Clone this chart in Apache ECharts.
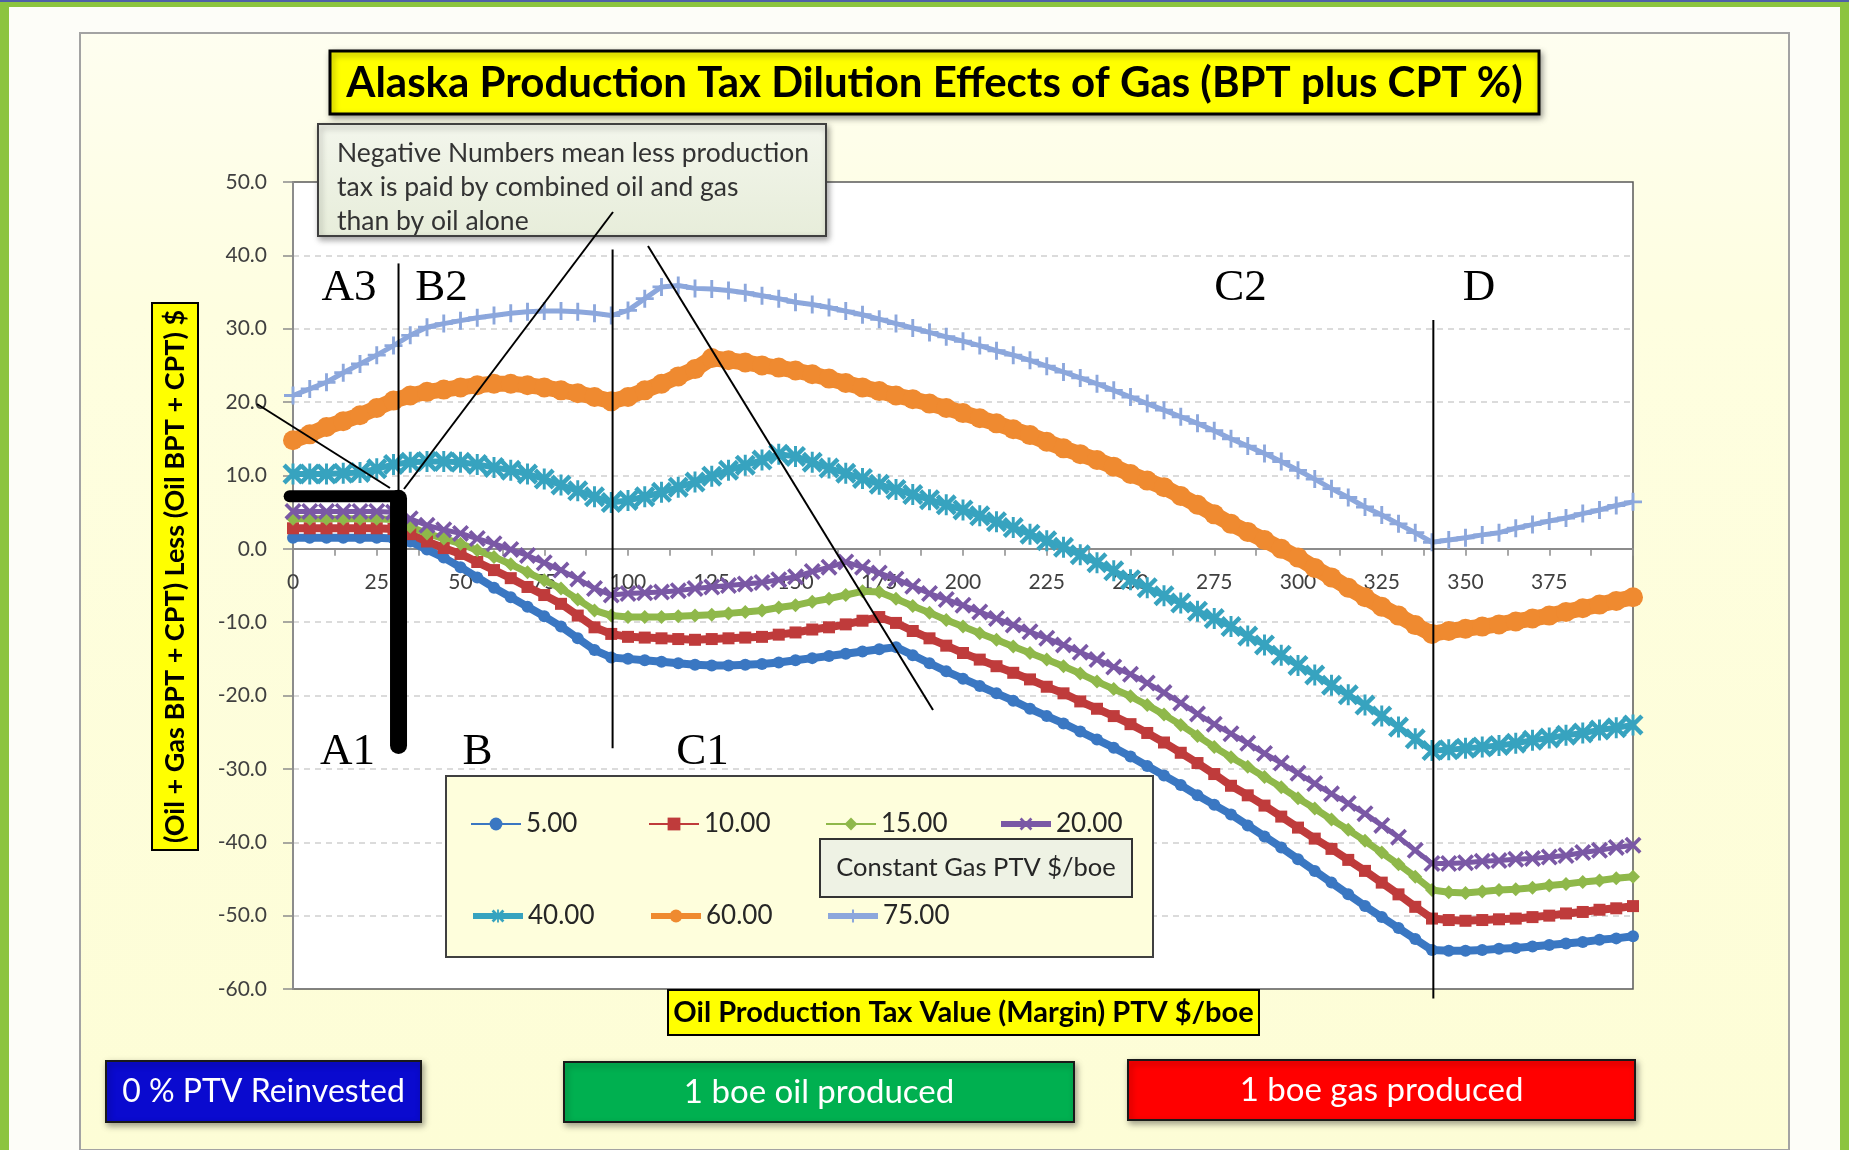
<!DOCTYPE html>
<html>
<head>
<meta charset="utf-8">
<title>Alaska Production Tax Dilution Effects of Gas</title>
<script src="https://cdn.jsdelivr.net/npm/echarts@6/dist/echarts.min.js"></script>
<style>
  html, body { margin: 0; padding: 0; background: #ffffff; overflow: hidden; }
  #dilutionChart { width: 1849px; height: 1150px; }
</style>
</head>
<body>
<div id="dilutionChart"></div>
<script>
  // Oil production tax value (margin) PTV $/boe, x axis
  var ptv = [
    0, 5, 10, 15, 20, 25, 30, 35, 40, 45,
    50, 55, 60, 65, 70, 75, 80, 85, 90, 95,
    100, 105, 110, 115, 120, 125, 130, 135, 140, 145,
    150, 155, 160, 165, 170, 175, 180, 185, 190, 195,
    200, 205, 210, 215, 220, 225, 230, 235, 240, 245,
    250, 255, 260, 265, 270, 275, 280, 285, 290, 295,
    300, 305, 310, 315, 320, 325, 330, 335, 340, 345,
    350, 355, 360, 365, 370, 375, 380, 385, 390, 395,
    400
  ]

  // (oil + gas BPT + CPT) less (oil BPT + CPT) $, one list per constant gas PTV
  var gas5 = [
    1.5, 1.5, 1.5, 1.5, 1.5, 1.5, 1.4, 1.0, -0.1, -1.2,
    -2.5, -3.9, -5.3, -6.6, -7.9, -9.2, -10.6, -12.2, -13.8, -14.8,
    -15.0, -15.2, -15.4, -15.6, -15.8, -15.9, -15.9, -15.8, -15.7, -15.5,
    -15.2, -14.9, -14.6, -14.3, -14.0, -13.7, -13.4, -14.5, -15.6, -16.7,
    -17.7, -18.7, -19.7, -20.7, -21.8, -22.8, -23.8, -24.9, -26.0, -27.1,
    -28.3, -29.6, -30.9, -32.2, -33.6, -34.9, -36.2, -37.7, -39.2, -40.7,
    -42.3, -43.9, -45.5, -47.1, -48.7, -50.2, -51.7, -53.2, -54.7, -54.8,
    -54.8, -54.7, -54.5, -54.4, -54.2, -54.0, -53.8, -53.6, -53.3, -53.1,
    -52.8
  ]
  var gas10 = [
    2.8, 2.8, 2.8, 2.8, 2.8, 2.8, 2.7, 2.0, 1.0, 0.1,
    -0.7, -1.8, -2.9, -4.0, -5.2, -6.3, -7.5, -9.1, -10.7, -11.6,
    -12.0, -12.1, -12.2, -12.3, -12.4, -12.3, -12.2, -12.1, -12.0, -11.7,
    -11.4, -11.0, -10.7, -10.3, -9.8, -9.3, -10.1, -11.2, -12.2, -13.2,
    -14.2, -15.1, -16.0, -16.9, -17.8, -18.8, -19.7, -20.8, -21.8, -22.8,
    -23.9, -25.1, -26.4, -27.8, -29.2, -30.7, -32.3, -33.6, -35.0, -36.5,
    -38.0, -39.5, -40.9, -42.4, -43.9, -45.5, -47.1, -48.8, -50.4, -50.6,
    -50.7, -50.6, -50.5, -50.4, -50.2, -50.0, -49.7, -49.5, -49.2, -49.0,
    -48.7
  ]
  var gas15 = [
    4.1, 4.1, 4.1, 4.1, 4.1, 4.1, 4.0, 3.0, 2.1, 1.4,
    0.7, -0.2, -1.1, -2.1, -3.2, -4.3, -5.4, -6.9, -8.4, -9.1,
    -9.3, -9.3, -9.3, -9.2, -9.1, -9.0, -8.8, -8.6, -8.4, -8.0,
    -7.7, -7.2, -6.8, -6.3, -5.8, -5.9, -6.8, -7.8, -8.7, -9.7,
    -10.6, -11.5, -12.4, -13.3, -14.2, -15.1, -16.0, -17.0, -18.1, -19.1,
    -20.1, -21.3, -22.6, -24.0, -25.5, -27.0, -28.4, -29.7, -31.1, -32.5,
    -34.0, -35.4, -36.9, -38.3, -39.8, -41.4, -43.0, -44.7, -46.5, -46.8,
    -46.9, -46.7, -46.5, -46.4, -46.2, -45.9, -45.7, -45.4, -45.2, -44.9,
    -44.7
  ]
  var gas20 = [
    5.1, 5.1, 5.1, 5.1, 5.1, 5.1, 5.0, 4.1, 3.2, 2.6,
    2.1, 1.4, 0.7, -0.1, -0.9, -1.9, -2.9, -4.1, -5.4, -6.3,
    -6.1, -6.0, -5.9, -5.7, -5.4, -5.2, -5.0, -4.8, -4.6, -4.2,
    -3.8, -3.1, -2.5, -1.8, -2.5, -3.3, -4.1, -5.1, -6.1, -6.9,
    -7.7, -8.6, -9.5, -10.4, -11.3, -12.2, -13.1, -14.1, -15.1, -16.1,
    -17.1, -18.3, -19.6, -21.0, -22.5, -23.9, -25.2, -26.5, -27.9, -29.2,
    -30.6, -32.0, -33.4, -34.7, -36.1, -37.7, -39.3, -41.1, -42.9, -42.9,
    -42.8, -42.6, -42.5, -42.3, -42.2, -42.0, -41.8, -41.4, -41.1, -40.7,
    -40.4
  ]
  var gas40 = [
    10.2, 10.2, 10.2, 10.3, 10.4, 10.9, 11.5, 11.8, 11.9, 11.9,
    11.8, 11.5, 11.1, 10.7, 10.2, 9.5, 8.7, 7.9, 7.1, 6.3,
    6.6, 7.1, 7.7, 8.4, 9.1, 9.9, 10.7, 11.4, 12.1, 12.9,
    12.6, 11.8, 11.0, 10.3, 9.6, 8.8, 8.1, 7.4, 6.7, 6.0,
    5.3, 4.5, 3.7, 2.9, 2.0, 1.1, 0.2, -0.8, -1.9, -3.0,
    -4.2, -5.3, -6.4, -7.4, -8.5, -9.5, -10.6, -11.9, -13.1, -14.5,
    -15.9, -17.2, -18.6, -19.9, -21.3, -22.8, -24.3, -25.9, -27.5, -27.4,
    -27.2, -27.0, -26.8, -26.5, -26.1, -25.8, -25.4, -25.1, -24.7, -24.4,
    -24.0
  ]
  var gas60 = [
    14.8, 15.6, 16.6, 17.4, 18.2, 19.2, 20.2, 20.9, 21.4, 21.7,
    22.0, 22.3, 22.5, 22.5, 22.3, 22.0, 21.6, 21.2, 20.7, 20.1,
    20.7, 21.6, 22.5, 23.5, 24.5, 26.0, 25.7, 25.4, 25.0, 24.7,
    24.3, 23.8, 23.2, 22.6, 22.0, 21.5, 20.9, 20.4, 19.8, 19.2,
    18.5, 17.8, 17.1, 16.3, 15.5, 14.6, 13.7, 12.9, 12.1, 11.2,
    10.2, 9.3, 8.4, 7.2, 6.0, 4.7, 3.4, 2.3, 1.2, 0.0,
    -1.2, -2.6, -3.9, -5.3, -6.6, -7.9, -9.1, -10.4, -11.6, -11.2,
    -10.9, -10.6, -10.3, -9.9, -9.5, -9.1, -8.6, -8.1, -7.6, -7.1,
    -6.6
  ]
  var gas75 = [
    20.9, 21.8, 22.7, 24.0, 25.2, 26.4, 27.7, 29.1, 30.2, 30.7,
    31.1, 31.5, 31.8, 32.1, 32.3, 32.4, 32.4, 32.3, 32.1, 31.8,
    32.5, 34.1, 35.7, 35.9, 35.5, 35.4, 35.2, 34.9, 34.5, 34.1,
    33.6, 33.3, 32.9, 32.4, 31.9, 31.3, 30.7, 30.1, 29.5, 28.9,
    28.3, 27.7, 27.0, 26.4, 25.7, 24.9, 24.1, 23.3, 22.5, 21.6,
    20.7, 19.8, 18.9, 18.0, 17.1, 16.1, 15.0, 14.0, 13.0, 11.9,
    10.7, 9.5, 8.2, 7.0, 5.7, 4.6, 3.4, 2.2, 0.9, 1.2,
    1.5, 1.9, 2.2, 2.8, 3.3, 3.8, 4.2, 4.8, 5.3, 5.9,
    6.4
  ]

  var gasNames = ['5.00', '10.00', '15.00', '20.00', '40.00', '60.00', '75.00']
  var gasValues = [gas5, gas10, gas15, gas20, gas40, gas60, gas75]

  // value range of the y axis
  var yMin = -60
  var yMax = 50

  // Excel style markers
  var MARK_X = 'path://M0,1.5L1.5,0L10,8.5L8.5,10Z M8.5,0L10,1.5L1.5,10L0,8.5Z'
  var MARK_PLUS = 'path://M4.2,0H5.8V4.2H10V5.8H5.8V10H4.2V5.8H0V4.2H4.2Z'
  var MARK_STAR = 'path://M4.3,0H5.7V10H4.3Z M0,1.5L1.5,0L10,8.5L8.5,10Z M8.5,0L10,1.5L1.5,10L0,8.5Z'

  var looks = [
    { color: '#3a77c2', symbol: 'circle', size: 12, width: 8, legendWidth: 2 },
    { color: '#bf3b3b', symbol: 'rect', size: 12, width: 8, legendWidth: 2 },
    { color: '#8fb84a', symbol: 'diamond', size: 14, width: 7, legendWidth: 2 },
    { color: '#7a58a5', symbol: MARK_X, size: 17, width: 5, legendWidth: 6 },
    { color: '#37a3bf', symbol: MARK_STAR, size: 21, width: 6, legendWidth: 6 },
    { color: '#ef8a30', symbol: 'circle', size: 20, width: 16, legendWidth: 6 },
    { color: '#8ca7dc', symbol: MARK_PLUS, size: 18, width: 5, legendWidth: 6 }
  ]

  var gridBox = { left: 293, top: 182, width: 1340, height: 807 }
  var legendSlots = [[470, 811], [648, 811], [825, 811], [998, 811], [470, 903], [648, 903], [825, 903]]

  function buildSeries () {
    return gasNames.map(function (name, i) {
      var look = looks[i]
      return {
        name: name,
        type: 'line',
        data: ptv.map(function (x, k) { return [x, gasValues[i][k]] }),
        symbol: look.symbol,
        symbolSize: look.size,
        showAllSymbol: true,
        lineStyle: { color: look.color, width: look.width },
        itemStyle: { color: look.color, borderWidth: 0 },
        emphasis: { disabled: true },
        z: 3
      }
    })
  }

  function buildLegends () {
    return gasNames.map(function (name, i) {
      return {
        data: [{ name: name, lineStyle: { width: looks[i].legendWidth } }],
        left: legendSlots[i][0],
        top: legendSlots[i][1],
        padding: 0,
        itemWidth: 50,
        itemHeight: 16,
        selectedMode: false,
        z: 20,
        textStyle: { fontSize: 26, color: '#262626', fontFamily: 'Lato' }
      }
    })
  }

  function box (x, y, w, h, fill, stroke, lw, z, shadow) {
    var style = { fill: fill, stroke: stroke, lineWidth: lw }
    if (shadow) {
      style.shadowBlur = 6
      style.shadowOffsetX = 2
      style.shadowOffsetY = 3
      style.shadowColor = 'rgba(0,0,0,0.35)'
    }
    return { type: 'rect', z: z, shape: { x: x, y: y, width: w, height: h }, style: style }
  }

  function label (x, y, text, font, fill, z, align) {
    return {
      type: 'text', z: z, x: x, y: y,
      style: { text: text, font: font, fill: fill, align: align || 'center', verticalAlign: 'middle' }
    }
  }

  function seg (a, b, w) {
    return { type: 'line', z: 40, shape: { x1: a[0], y1: a[1], x2: b[0], y2: b[1] }, style: { stroke: '#000', lineWidth: w || 2 } }
  }

  function buildDecor (chart) {
    var p = function (x, y) { return chart.convertToPixel({ gridIndex: 0 }, [x, y]) }
    var els = []

    // page frame and chart area
    els.push(box(0, 0, 1849, 1150, '#8cc43f', null, 0, -30))
    els.push(box(0, 0, 1849, 2, '#4f5fa8', null, 0, -29))
    els.push(box(9, 7, 1831, 1143, '#fdfdf8', null, 0, -28))
    els.push(box(80, 33, 1709, 1117, {
      type: 'linear', x: 0, y: 0, x2: 0, y2: 1,
      colorStops: [{ offset: 0, color: '#fefef0' }, { offset: 0.25, color: '#fefee0' }, { offset: 1, color: '#fdfdd6' }]
    }, '#a3a3a3', 2, -27))

    // title
    els.push(box(330, 51, 1209, 63, '#ffff00', '#000', 3, 30, true))
    els.push(label(934.5, 83, 'Alaska Production Tax Dilution Effects of Gas (BPT plus CPT %)', 'bold 42px Lato', '#000', 31))

    // note box
    els.push(box(318, 124, 508, 112, {
      type: 'linear', x: 0, y: 0, x2: 0, y2: 1,
      colorStops: [{ offset: 0, color: '#f3f6ec' }, { offset: 1, color: '#e7edda' }]
    }, '#3f3f3f', 2, 30, true))
    els.push(label(337, 153, 'Negative Numbers mean less production', '26.5px Lato', '#333', 31, 'left'))
    els.push(label(337, 187, 'tax is paid by combined oil and gas', '26.5px Lato', '#333', 31, 'left'))
    els.push(label(337, 221, 'than by oil alone', '26.5px Lato', '#333', 31, 'left'))

    // axis names
    els.push(box(152, 303, 46, 547, '#ffff00', '#000', 2, 30))
    var yName = label(175.5, 576.5, '(Oil + Gas BPT + CPT) Less (Oil BPT + CPT) $', 'bold 27px Lato', '#000', 31)
    yName.rotation = Math.PI / 2
    els.push(yName)
    els.push(box(668, 990, 591, 45, '#ffff00', '#000', 2, 30))
    els.push(label(963.5, 1012.5, 'Oil Production Tax Value (Margin) PTV $/boe', 'bold 29px Lato', '#000', 31))

    // legend frame and its caption
    els.push(box(446, 776, 707, 181, '#fefedc', '#404040', 2, 12))
    els.push(box(820, 839, 312, 58, '#eef2e4', '#333', 2, 21))
    els.push(label(976, 868, 'Constant Gas PTV $/boe', '25.5px Lato', '#262626', 22))

    // bottom buttons
    els.push(box(106, 1061, 315, 61, '#0a0acf', '#1a1a1a', 2, 30, true))
    els.push(label(263.5, 1092, '0 % PTV Reinvested', '32px Lato', '#fff', 31))
    els.push(box(564, 1062, 510, 60, '#00b050', '#1a1a1a', 2, 30, true))
    els.push(label(819, 1092, '1 boe oil produced', '33px Lato', '#fff', 31))
    els.push(box(1128, 1060, 507, 60, '#ff0000', '#1a1a1a', 2, 30, true))
    els.push(label(1381.5, 1090, '1 boe gas produced', '33px Lato', '#fff', 31))

    // region letters
    var serif = '45px "Liberation Serif", "Times New Roman", serif'
    els.push(label(349, 288, 'A3', serif, '#000', 41))
    els.push(label(441.5, 288, 'B2', serif, '#000', 41))
    els.push(label(1240.5, 288, 'C2', serif, '#000', 41))
    els.push(label(1479, 288, 'D', serif, '#000', 41))
    els.push(label(347.5, 752, 'A1', serif, '#000', 41))
    els.push(label(477.5, 752, 'B', serif, '#000', 41))
    els.push(label(702.5, 752, 'C1', serif, '#000', 41))

    // boundary lines, placed on the data scale
    els.push(seg(p(31.5, 38.9), p(31.5, 7.2)))
    els.push(seg(p(95.4, 40.8), p(95.4, -27.2)))
    els.push(seg(p(340.4, 31.2), p(340.4, -61.3)))

    // heavy A1 bracket
    var left = p(-1, 7.15)
    var corner = p(31.5, 7.15)
    var foot = p(31.5, -26.8)
    els.push({ type: 'line', z: 42, shape: { x1: left[0], y1: left[1], x2: corner[0], y2: corner[1] },
      style: { stroke: '#000', lineWidth: 12, lineCap: 'round' } })
    els.push({ type: 'line', z: 42, shape: { x1: corner[0], y1: corner[1] + 2, x2: foot[0], y2: foot[1] },
      style: { stroke: '#000', lineWidth: 17, lineCap: 'round' } })

    // pointers from the note box
    els.push(seg([613, 212], [404, 489]))
    els.push(seg([257, 404], [390, 488]))
    els.push(seg([648, 246], [933, 710]))

    return els
  }

  var chart = echarts.init(document.getElementById('dilutionChart'))

  // x axis sits on the zero line, as in Excel
  var zeroShift = -gridBox.height * (0 - yMin) / (yMax - yMin)

  chart.setOption({
    animation: false,
    grid: {
      left: gridBox.left, top: gridBox.top, width: gridBox.width, height: gridBox.height,
      show: true, backgroundColor: '#ffffff', borderColor: '#595959', borderWidth: 1.5,
      outerBoundsMode: 'none'
    },
    legend: buildLegends(),
    xAxis: {
      type: 'value', min: 0, max: 400, interval: 25,
      offset: zeroShift,
      axisLine: { onZero: false, lineStyle: { color: '#8c8c8c', width: 2 } },
      axisTick: { show: true, length: 7, lineStyle: { color: '#8c8c8c', width: 1.5 } },
      minorTick: { show: true, splitNumber: 2, length: 7, lineStyle: { color: '#8c8c8c', width: 1.5 } },
      axisLabel: { margin: 23, fontSize: 21, color: '#404040', fontFamily: 'Lato', showMaxLabel: false },
      splitLine: { show: false }
    },
    yAxis: {
      type: 'value', min: yMin, max: yMax, interval: 10,
      axisLine: { show: true, lineStyle: { color: '#8c8c8c', width: 2 } },
      axisTick: { show: true, length: 10, lineStyle: { color: '#8c8c8c', width: 1.5 } },
      axisLabel: {
        margin: 26, fontSize: 21, color: '#404040', fontFamily: 'Lato',
        formatter: function (v) { return v.toFixed(1) }
      },
      splitLine: {
        show: true, showMinLine: false, showMaxLine: false,
        lineStyle: { color: '#cfcfcf', width: 1.5, type: [6, 5] }
      }
    },
    series: buildSeries()
  })

  chart.setOption({ graphic: buildDecor(chart) })
</script>
</body>
</html>
